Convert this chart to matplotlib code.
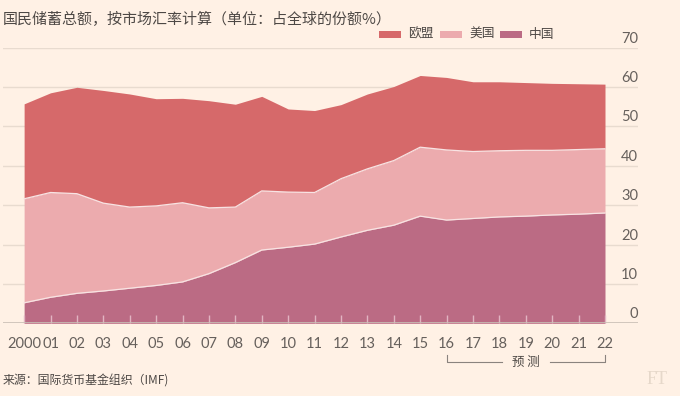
import matplotlib
matplotlib.use("Agg")
import matplotlib.pyplot as plt
from matplotlib.patches import Rectangle
from matplotlib.lines import Line2D
import numpy as np

years = list(range(2000, 2023))
tick_labels = ["2000", "01", "02", "03", "04", "05", "06", "07", "08", "09", "10",
               "11", "12", "13", "14", "15", "16", "17", "18", "19", "20", "21", "22"]
china = [5.2, 6.6, 7.6, 8.2, 8.9, 9.6, 10.5, 12.6, 15.4, 18.6, 19.3, 20.1, 21.9,
         23.6, 24.9, 27.2, 26.2, 26.6, 27.0, 27.2, 27.5, 27.7, 28.0]
usa = [26.4, 26.6, 25.3, 22.3, 20.6, 20.2, 20.1, 16.7, 14.1, 15.0, 14.0, 13.1, 14.8,
       15.6, 16.4, 17.5, 17.8, 17.0, 16.8, 16.7, 16.4, 16.4, 16.3]
eu = [24.1, 25.3, 27.0, 28.6, 28.7, 27.2, 26.5, 27.2, 26.1, 24.0, 21.1, 20.8, 18.8,
      19.0, 18.8, 18.2, 18.4, 17.7, 17.5, 17.2, 17.0, 16.7, 16.4]
series_names = ["欧盟", "美国", "中国"]
y_ticks = [0, 10, 20, 30, 40, 50, 60, 70]

BG = "#fff1e5"
C_EU = "#d6696a"
C_US = "#ecabae"
C_CN = "#bb6b84"
CJK = ["Noto Sans CJK SC", "DejaVu Sans"]
NUM = ["Lato", "DejaVu Sans"]

W, H = 680, 396
fig = plt.figure(figsize=(W / 100, H / 100), dpi=100, facecolor=BG)

def fx(px):
    return px / W

def fy(py):
    return 1 - py / H

ax = fig.add_axes([fx(3), fy(323.3), fx(638) - fx(3), fy(47.5) - fy(323.3)])
ax.set_facecolor(BG)
for s in ax.spines.values():
    s.set_visible(False)

x = np.array(years)
cn = np.array(china)
us_top = cn + np.array(usa)
eu_top = us_top + np.array(eu)

ax.set_xlim(1999.2, 2023.25)
ax.set_ylim(0, 70)

# gridlines behind
for v in y_ticks[1:]:
    ax.axhline(v, color="#e8dbcf", lw=1, zorder=0.5)

ax.fill_between(x, us_top, eu_top, color=C_EU, lw=0, zorder=1)
ax.fill_between(x, cn, us_top, color=C_US, lw=0, zorder=1)
ax.fill_between(x, 0, cn, color=C_CN, lw=0, zorder=1)
ax.plot(x, us_top, color="#f8e3e3", lw=0.9, zorder=2)
ax.plot(x, cn, color="#f8e3e3", lw=0.9, zorder=2)
ax.axhline(0, color="#c9bfb6", lw=1.2, zorder=3)

# y labels, right aligned above gridlines
ax.set_yticks([])
for v in y_ticks:
    ax.text(1.0, v + 0.5, str(v), transform=ax.get_yaxis_transform(),
            ha="right", va="bottom", fontsize=10.5, color="#66605c", family=NUM)

ax.set_xticks(years)
ax.set_xticklabels(tick_labels, fontfamily=NUM)
ax.tick_params(axis="x", direction="in", length=6, width=1, color="#e2b4c2",
               labelsize=10.5, labelcolor="#66605c", pad=10)

# forecast bracket
tr = ax.get_xaxis_transform()
yb = -(362 - 323.3) / (323.3 - 47.5)
yt = -(355 - 323.3) / (323.3 - 47.5)
bc = "#8a837e"
ax.add_line(Line2D([2016, 2016, 2018.1], [yt, yb, yb], transform=tr, color=bc, lw=0.8, clip_on=False))
ax.add_line(Line2D([2019.9, 2022, 2022], [yb, yb, yt], transform=tr, color=bc, lw=0.8, clip_on=False))
ax.text(2019, yb, "预 测", transform=tr, ha="center", va="center", fontsize=9,
        color="#4d4845", family=CJK)

# subtitle
fig.text(fx(3), fy(19), "国民储蓄总额，按市场汇率计算（单位：占全球的份额%）",
         ha="left", va="center", fontsize=10.8, color="#4d4845", family=CJK)

# legend
leg = [(379, C_EU), (440, C_US), (500, C_CN)]
for (px, c), name in zip(leg, series_names):
    fig.patches.append(Rectangle((fx(px), fy(38)), fx(22), fy(31) - fy(38),
                                 transform=fig.transFigure, color=c, lw=0))
    fig.text(fx(px + 29), fy(34.5), name, ha="left", va="center", fontsize=9.2,
             color="#4d4845", family=CJK)

# source
fig.text(fx(3), fy(381), "来源：国际货币基金组织（IMF)", ha="left", va="center",
         fontsize=8.6, color="#4d4845", family=CJK)
fig.text(fx(668), fy(380), "FT", ha="right", va="center", fontsize=13,
         color="#e6d8ca", family=["Liberation Serif", "DejaVu Serif"])

fig.savefig("out.png", dpi=100, facecolor=BG)
